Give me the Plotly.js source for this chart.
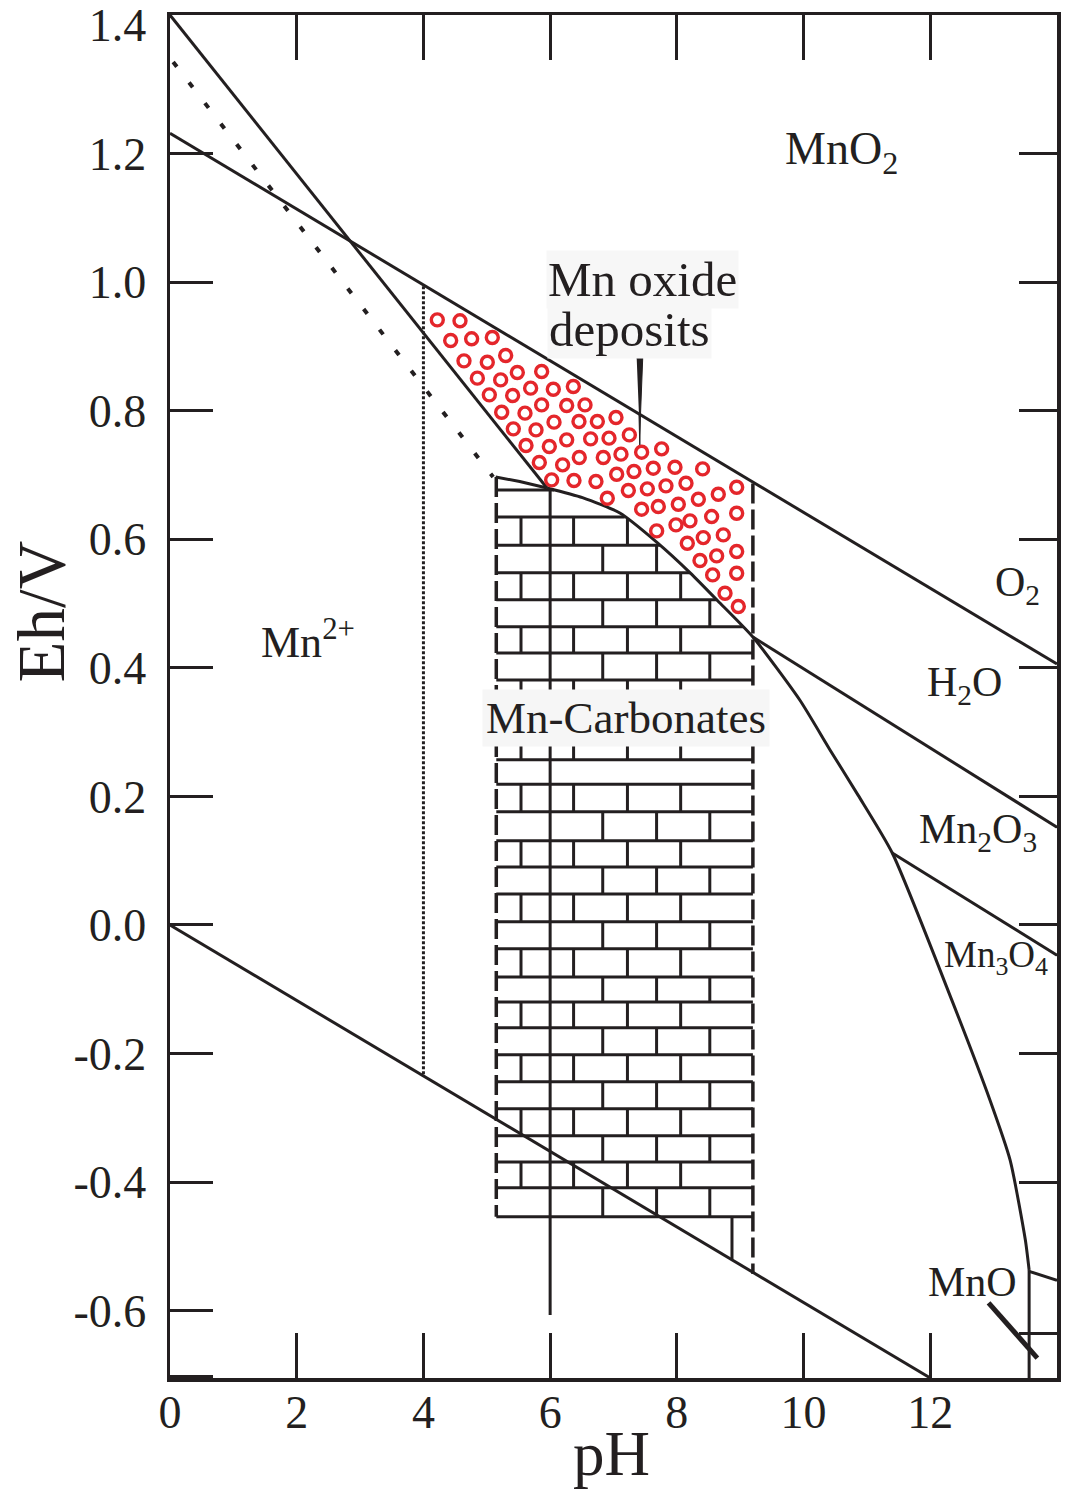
<!DOCTYPE html>
<html><head><meta charset="utf-8">
<script src="https://cdn.plot.ly/plotly-3.0.1.min.js"></script>
<style>html,body{margin:0;padding:0;background:#fff;}</style>
</head><body>
<div id="chart" style="width:1077px;height:1489px;"></div>
<script>
// ---------- data ----------
const xRange = [0, 14];
const yRange = [-0.705, 1.416];
const xTickVals = [0, 2, 4, 6, 8, 10, 12, 14];
const xTickText = ['0', '2', '4', '6', '8', '10', '12', '14'];
const yLabelVals = [1.4, 1.2, 1.0, 0.8, 0.6, 0.4, 0.2, 0.0, -0.2, -0.4, -0.6];
const yLabelText = ['1.4', '1.2', '1.0', '0.8', '0.6', '0.4', '0.2', '0.0', '-0.2', '-0.4', '-0.6'];
const yLeftTickVals = [1.2, 1.0, 0.8, 0.6, 0.4, 0.2, 0.0, -0.2, -0.4, -0.6, -0.703];
const yRightTickVals = [1.2, 1.0, 0.8, 0.6, 0.4, 0.2, 0.0, -0.2, -0.4, -0.635];

// stability-field boundaries (pH, Eh in V)
const waterUpperPH = [0, 14];        const waterUpperEh = [1.232, 0.406];
const waterLowerPH = [0, 12.0];      const waterLowerEh = [0.0, -0.705];
const mno2LinePH = [0, 5.95];        const mno2LineEh = [1.416, 0.680];
const mno2DottedPH = [0.05, 5.10];   const mno2DottedEh = [1.343, 0.697];
const ph4LinePH = [4, 4];            const ph4LineEh = [0.994, -0.236];
const boundaryPH = [5.95, 6.51, 7.10, 7.69, 8.21, 8.68, 9.20, 9.94, 10.42, 10.86, 11.40, 12.34, 12.94, 13.26, 13.50, 13.56];
const boundaryEh = [0.680, 0.665, 0.641, 0.595, 0.548, 0.501, 0.448, 0.350, 0.272, 0.202, 0.112, -0.117, -0.272, -0.366, -0.490, -0.537];
const mnoVertPH = [13.56, 13.56];    const mnoVertEh = [-0.537, -0.705];
const mnoMn3o4PH = [13.56, 14];      const mnoMn3o4Eh = [-0.539, -0.553];
const mn2o3LinePH = [9.20, 14];      const mn2o3LineEh = [0.448, 0.152];
const mn3o4LinePH = [11.40, 14];     const mn3o4LineEh = [0.112, -0.047];
const mnoPointerPH = [12.92, 13.69]; const mnoPointerEh = [-0.588, -0.674];

// Mn-carbonate brick block
const brickLeftPH = 5.15;   const brickLeftEh = [0.697, -0.454];
const brickRightPH = 9.20;  const brickRightEh = [0.687, -0.543];
const brickTopPH = [5.14, 5.52, 5.95];  const brickTopEh = [0.697, 0.690, 0.680];
const brickSpinePH = [6.0, 6.0];        const brickSpineEh = [0.680, -0.607];
const brickFootPH = [8.87, 8.87];       const brickFootEh = [-0.454, -0.520];
const brickRowEh = [0.677, 0.635, 0.591, 0.548, 0.506, 0.464, 0.423, 0.381, 0.339, 0.299, 0.257, 0.219, 0.176, 0.131, 0.090, 0.048, 0.005, -0.037, -0.081, -0.120, -0.160, -0.202, -0.244, -0.286, -0.328, -0.369, -0.409, -0.454];
const brickRowPattern = ['T','B','C','B','C','B','C','B','C','B','L','B','C','B','C','B','C','B','C','B','C','B','C','B','C','B','C'];
const brickJointsB = [5.54, 6.37, 7.22, 8.06];
const brickJointsC = [6.83, 7.68, 8.52];

// Mn oxide deposit circles
const depositPH = [4.219,4.577, 4.430,4.761,5.087, 4.640,5.008,5.298, 4.851,5.219,5.482,5.866,
  5.040,5.408,5.692,6.050,6.366, 5.235,5.603,5.866,6.261,6.550, 5.419,5.777,6.061,6.455,6.745,7.039,
  5.619,5.987,6.261,6.639,6.929,7.250, 5.829,6.197,6.460,6.839,7.118,7.444,7.760,
  6.024,6.376,6.723,7.050,7.323,7.628,7.970,8.407, 6.902,7.234,7.534,7.828,8.144,
  7.444,7.707,8.023,8.339,8.654,8.944, 7.681,7.986,8.207,8.549,8.944, 8.165,8.417,8.733,
  8.365,8.628,8.944, 8.565,8.944, 8.760, 8.970];
const depositEh = [0.9416,0.9401, 0.9095,0.9121,0.9141, 0.8778,0.8757,0.8861, 0.8509,0.8482,0.8597,0.8612,
  0.8249,0.8239,0.8353,0.8337,0.8379, 0.7979,0.7964,0.8093,0.8083,0.8093, 0.7720,0.7704,0.7824,0.7834,0.7834,0.7896,
  0.7460,0.7445,0.7549,0.7564,0.7575,0.7626, 0.7196,0.7160,0.7274,0.7274,0.7326,0.7357,0.7409,
  0.6926,0.6916,0.6900,0.7014,0.7056,0.7108,0.7123,0.7097, 0.6641,0.6760,0.6786,0.6833,0.6874,
  0.6470,0.6511,0.6547,0.6625,0.6703,0.6812, 0.6132,0.6226,0.6288,0.6355,0.6407, 0.5940,0.6028,0.6070,
  0.5671,0.5743,0.5811, 0.5447,0.5473, 0.5162, 0.4955];

// tapered pointer from "deposits"
const arrowPH = [7.366, 7.461, 7.426, 7.415, 7.402];
const arrowEh = [0.882, 0.882, 0.794, 0.747, 0.794];

// ---------- build ----------
const ink = '#231f20';
const serif = 'Liberation Serif, Times New Roman, serif';

function curveEhAt(p) {
  if (p <= boundaryPH[0]) return Infinity;
  for (let i = 0; i < boundaryPH.length - 1; i++) {
    if (p >= boundaryPH[i] && p <= boundaryPH[i + 1]) {
      const t = (p - boundaryPH[i]) / (boundaryPH[i + 1] - boundaryPH[i]);
      return boundaryEh[i] + t * (boundaryEh[i + 1] - boundaryEh[i]);
    }
  }
  return -Infinity;
}
function curvePHAt(eh) {
  for (let i = 0; i < boundaryEh.length - 1; i++) {
    if (eh <= boundaryEh[i] && eh >= boundaryEh[i + 1]) {
      const t = (boundaryEh[i] - eh) / (boundaryEh[i] - boundaryEh[i + 1]);
      return boundaryPH[i] + t * (boundaryPH[i + 1] - boundaryPH[i]);
    }
  }
  return brickRightPH;
}

const bx = [], by = [];
brickRowEh.forEach(eh => {
  const right = Math.min(brickRightPH, curvePHAt(eh));
  bx.push(brickLeftPH, right, null); by.push(eh, eh, null);
});
brickRowPattern.forEach((pat, i) => {
  const top = brickRowEh[i], bot = brickRowEh[i + 1];
  const joints = pat === 'B' ? brickJointsB : (pat === 'C' ? brickJointsC : []);
  joints.forEach(p => {
    const c = curveEhAt(p);
    if (c <= bot) return;
    bx.push(p, p, null); by.push(Math.min(top, c), bot, null);
  });
});

function line(xs, ys, extra) {
  return Object.assign({
    type: 'scatter', mode: 'lines', x: xs, y: ys,
    line: { color: ink, width: 3 }, hoverinfo: 'skip', showlegend: false
  }, extra || {});
}

const traces = [
  line(bx, by, { line: { color: ink, width: 3 } }),
  line([brickLeftPH, brickLeftPH], brickLeftEh, { line: { color: ink, width: 3.5, dash: '20px,6px' } }),
  line([brickRightPH, brickRightPH], brickRightEh, { line: { color: ink, width: 3.5, dash: '20px,6px' } }),
  line(brickTopPH, brickTopEh),
  line(brickSpinePH, brickSpineEh),
  line(brickFootPH, brickFootEh),
  line(waterUpperPH, waterUpperEh),
  line(waterLowerPH, waterLowerEh),
  line(mno2LinePH, mno2LineEh),
  line(mno2DottedPH, mno2DottedEh, { line: { color: ink, width: 4, dash: '6px,20px' } }),
  line(ph4LinePH, ph4LineEh, { line: { color: ink, width: 3, dash: '3px,2px' } }),
  line(boundaryPH, boundaryEh, { line: { color: ink, width: 3, shape: 'spline', smoothing: 0.6 } }),
  line(mnoVertPH, mnoVertEh),
  line(mnoMn3o4PH, mnoMn3o4Eh),
  line(mn2o3LinePH, mn2o3LineEh),
  line(mn3o4LinePH, mn3o4LineEh),
  line(mnoPointerPH, mnoPointerEh, { line: { color: ink, width: 5 } }),
  { type: 'scatter', mode: 'markers', x: depositPH, y: depositEh, hoverinfo: 'skip', showlegend: false,
    marker: { symbol: 'circle-open', size: 12, color: '#e4262b', line: { color: '#e4262b', width: 3.4 } } },
  { type: 'scatter', mode: 'lines', x: arrowPH, y: arrowEh, fill: 'toself', fillcolor: ink,
    line: { color: ink, width: 1 }, hoverinfo: 'skip', showlegend: false },
  { type: 'scatter', mode: 'lines', x: [null], y: [null], yaxis: 'y2', hoverinfo: 'skip', showlegend: false },
  { type: 'scatter', mode: 'lines', x: [null], y: [null], yaxis: 'y3', hoverinfo: 'skip', showlegend: false }
];

function label(text, x, y, size, extra) {
  return Object.assign({ text: text, x: x, y: y, xref: 'x', yref: 'y', showarrow: false,
    xanchor: 'center', yanchor: 'middle',
    font: { family: serif, size: size, color: ink } }, extra || {});
}

const annotations = [
  label('MnO<sub>2</sub>', 10.60, 1.203, 46),
  label('O<sub>2</sub>', 13.38, 0.529, 42),
  label('H<sub>2</sub>O', 12.54, 0.374, 42),
  label('Mn<sub>2</sub>O<sub>3</sub>', 12.75, 0.145, 42),
  label('Mn<sub>3</sub>O<sub>4</sub>', 13.04, -0.051, 37),
  label('MnO', 12.66, -0.556, 42),
  label('Mn<sup>2+</sup>', 2.18, 0.444, 44),
  label('Mn oxide', 5.93, 1.004, 49, { xanchor: 'left', bgcolor: '#f7f7f7' }),
  label('deposits', 5.95, 0.926, 49, { xanchor: 'left', bgcolor: '#f7f7f7' }),
  label('Mn-Carbonates', 7.205, 0.322, 45, { bgcolor: '#f6f6f6', borderpad: 3 }),
  { text: 'Eh/V', xref: 'paper', yref: 'paper', x: -0.145, y: 0.562, textangle: -90, showarrow: false,
    xanchor: 'center', yanchor: 'middle', font: { family: serif, size: 67, color: ink } },
  { text: 'pH', xref: 'paper', yref: 'paper', x: 0.498, y: -0.0555, showarrow: false,
    xanchor: 'center', yanchor: 'middle', font: { family: serif, size: 63, color: ink } }
];

const tickFont = { family: serif, size: 46, color: ink };
const layout = {
  width: 1077, height: 1489,
  margin: { l: 170, r: 20, t: 15, b: 111, pad: 0 },
  paper_bgcolor: '#ffffff', plot_bgcolor: '#ffffff',
  showlegend: false, hovermode: false,
  xaxis: {
    range: xRange, tickvals: xTickVals, ticktext: xTickText,
    ticks: 'inside', ticklen: 45, tickwidth: 3, tickcolor: ink,
    showline: true, linewidth: 3.5, linecolor: ink, mirror: 'ticks',
    showgrid: false, zeroline: false, tickfont: tickFont, ticklabelstandoff: -9
  },
  yaxis: {
    range: yRange, tickvals: yLabelVals, ticktext: yLabelText,
    ticks: '', showline: true, linewidth: 3.5, linecolor: ink, mirror: true,
    showgrid: false, zeroline: false, tickfont: tickFont, ticklabelstandoff: 11
  },
  yaxis2: {
    range: yRange, overlaying: 'y', side: 'right', tickvals: yRightTickVals,
    ticks: 'inside', ticklen: 38, tickwidth: 3, tickcolor: ink,
    showticklabels: false, showline: false, showgrid: false, zeroline: false
  },
  yaxis3: {
    range: yRange, overlaying: 'y', side: 'left', tickvals: yLeftTickVals,
    ticks: 'inside', ticklen: 43, tickwidth: 3, tickcolor: ink,
    showticklabels: false, showline: false, showgrid: false, zeroline: false
  },
  annotations: annotations
};

Plotly.newPlot('chart', traces, layout, { displayModeBar: false, staticPlot: true });
</script></body></html>
